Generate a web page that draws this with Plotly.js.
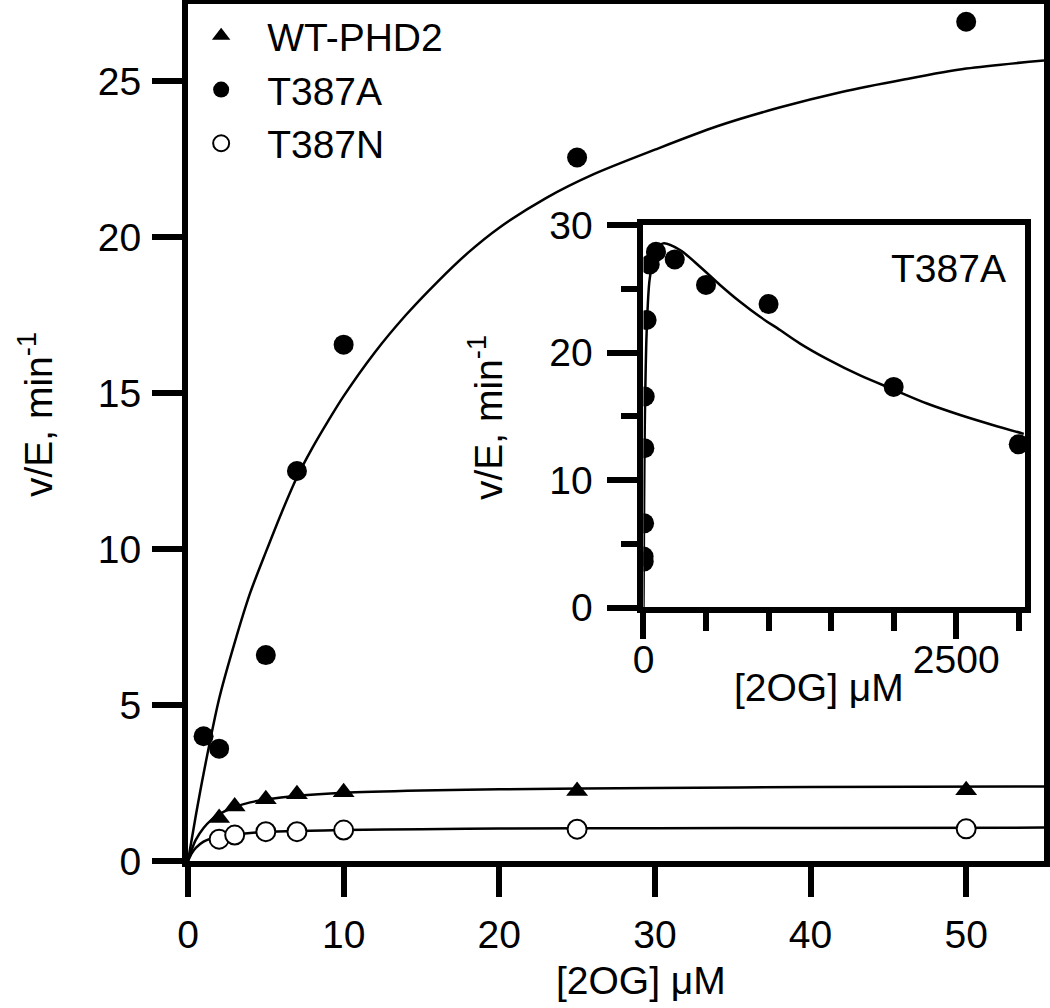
<!DOCTYPE html>
<html>
<head>
<meta charset="utf-8">
<script src="https://cdn.plot.ly/plotly-3.0.1.min.js"></script>
<style>
html,body{margin:0;padding:0;background:#fff;}
#chart{width:1050px;height:1008px;}
</style>
</head>
<body>
<div id="chart"></div>
<script>
// ---- Data ----
const seriesNames = ['WT-PHD2', 'T387A', 'T387N'];

// Main panel: measured points
const wtX = [2, 3, 5, 7, 10, 25, 50];
const wtY = [1.38, 1.75, 1.98, 2.14, 2.20, 2.24, 2.27];

const taX = [1, 2, 5, 7, 10, 25, 50];
const taY = [4.0, 3.6, 6.6, 12.5, 16.55, 22.55, 26.9];

const tnX = [2, 3, 5, 7, 10, 25, 50];
const tnY = [0.70, 0.83, 0.94, 0.94, 0.99, 1.02, 1.03];

// Main panel: fitted curves
const taFitX = [0, 0.5, 1, 2, 3, 4, 5, 6, 7, 8, 9, 10, 12, 14, 16, 18, 20, 23, 26, 30, 34, 38, 42, 46, 50, 55];
const taFitY = [0, 1.45, 2.8, 5.2, 7.0, 8.6, 9.9, 11.15, 12.3, 13.25, 14.1, 14.9, 16.3, 17.5, 18.55, 19.5, 20.3, 21.25, 22.0, 22.8, 23.55, 24.15, 24.65, 25.05, 25.4, 25.66];

const wtFitX = [0, 0.25, 0.5, 1, 1.5, 2, 3, 4, 5, 7, 10, 15, 20, 30, 40, 55];
const wtFitY = [0, 0.38, 0.68, 1.06, 1.32, 1.50, 1.73, 1.88, 1.97, 2.09, 2.19, 2.26, 2.30, 2.34, 2.37, 2.39];

const tnFitX = [0, 0.25, 0.5, 1, 1.5, 2, 3, 4, 5, 7, 10, 15, 20, 30, 40, 55];
const tnFitY = [0, 0.25, 0.42, 0.62, 0.72, 0.78, 0.85, 0.90, 0.93, 0.96, 0.99, 1.02, 1.04, 1.05, 1.06, 1.07];

// Inset (T387A over the full range)
const insetX = [1, 2, 5, 7, 10, 25, 50, 100, 250, 500, 1000, 2000, 3000];
const insetY = [4.0, 3.6, 6.6, 12.5, 16.55, 22.55, 26.9, 27.9, 27.3, 25.3, 23.8, 17.3, 12.8];

const insetFitX = [0, 5, 10, 25, 50, 100, 158, 292, 452, 612, 772, 932, 1092, 1252, 1466, 1732, 1998, 2266, 2532, 2798, 3040];
const insetFitY = [0, 8, 14, 21.5, 25.8, 28.0, 28.56, 28.04, 26.73, 25.3, 23.98, 22.8, 21.76, 20.7, 19.5, 18.2, 17.1, 16.0, 15.1, 14.3, 13.62];

// Text
const xTitle = '[2OG] \u03bcM';
const yTitle = 'v/E, min<sup>-1</sup>';
const insetLabel = 'T387A';

// ---- Traces ----
const FONT = 'Liberation Sans, Arial, Helvetica, sans-serif';
const lineStyle = {color: 'black', width: 2.5, shape: 'spline', smoothing: 0.8};

const traces = [
  {x: taFitX, y: taFitY, mode: 'lines', line: lineStyle, showlegend: false, hoverinfo: 'skip'},
  {x: wtFitX, y: wtFitY, mode: 'lines', line: lineStyle, showlegend: false, hoverinfo: 'skip'},
  {x: tnFitX, y: tnFitY, mode: 'lines', line: lineStyle, showlegend: false, hoverinfo: 'skip'},
  {x: wtX, y: wtY, mode: 'markers', name: seriesNames[0],
   marker: {symbol: 'triangle-up', size: 19, color: 'black'}},
  {x: taX, y: taY, mode: 'markers', name: seriesNames[1],
   marker: {symbol: 'circle', size: 20, color: 'black'}},
  {x: tnX, y: tnY, mode: 'markers', name: seriesNames[2],
   marker: {symbol: 'circle', size: 19, color: 'white', line: {color: 'black', width: 2}}},
  {x: insetFitX, y: insetFitY, xaxis: 'x2', yaxis: 'y2', mode: 'lines', line: lineStyle, showlegend: false, hoverinfo: 'skip'},
  {x: insetX, y: insetY, xaxis: 'x2', yaxis: 'y2', mode: 'markers', showlegend: false,
   marker: {symbol: 'circle', size: 20, color: 'black'}}
];

const axBase = {
  showline: true, linewidth: 6, linecolor: 'black', mirror: true,
  ticks: 'outside', tickwidth: 6, tickcolor: 'black',
  showgrid: false, zeroline: false, tickfont: {family: FONT, size: 39, color: 'black'},
  fixedrange: true
};

const layout = {
  width: 1050, height: 1008,
  margin: {l: 188, r: 6, t: 4, b: 147, pad: 0},
  paper_bgcolor: 'white', plot_bgcolor: 'white',
  font: {family: FONT, size: 39, color: 'black'},
  showlegend: true,
  legend: {x: -0.015, y: 1.0, xanchor: 'left', yanchor: 'top', bgcolor: 'rgba(0,0,0,0)',
           font: {family: FONT, size: 39, color: 'black'}, itemwidth: 82, borderwidth: 0},
  xaxis: Object.assign({}, axBase, {range: [0, 55], tick0: 0, dtick: 10, ticklen: 30, ticklabelstandoff: 4}),
  yaxis: Object.assign({}, axBase, {range: [0, 27.47], tick0: 0, dtick: 5, ticklen: 30, ticklabelstandoff: 3}),
  xaxis2: Object.assign({}, axBase, {domain: [0.5321, 0.9778], anchor: 'y2', range: [0, 3050], tick0: 0, dtick: 2500, ticklen: 26,
           ticklabelstandoff: -13,
           minor: {dtick: 500, tick0: 0, ticks: 'outside', ticklen: 18, tickwidth: 6, tickcolor: 'black', showgrid: false}}),
  yaxis2: Object.assign({}, axBase, {domain: [0.2958, 0.7421], anchor: 'x2', range: [0, 30], tick0: 0, dtick: 10, ticklen: 30,
           ticklabelstandoff: 7,
           minor: {dtick: 5, tick0: 0, ticks: 'outside', ticklen: 16, tickwidth: 6, tickcolor: 'black', showgrid: false}}),
  annotations: [
    {text: xTitle, xref: 'paper', yref: 'paper', x: 0.5292, y: -0.1389, xanchor: 'center', yanchor: 'middle', showarrow: false,
     font: {family: FONT, size: 39, color: 'black'}},
    {text: yTitle, xref: 'paper', yref: 'paper', x: -0.1787, y: 0.5204, xanchor: 'center', yanchor: 'middle', showarrow: false, textangle: -90,
     font: {family: FONT, size: 39, color: 'black'}},
    {text: xTitle, xref: 'paper', yref: 'paper', x: 0.7371, y: 0.2019, xanchor: 'center', yanchor: 'middle', showarrow: false,
     font: {family: FONT, size: 39, color: 'black'}},
    {text: yTitle, xref: 'paper', yref: 'paper', x: 0.347, y: 0.5169, xanchor: 'center', yanchor: 'middle', showarrow: false, textangle: -90,
     font: {family: FONT, size: 39, color: 'black'}},
    {text: insetLabel, xref: 'paper', yref: 'paper', x: 0.888, y: 0.691, xanchor: 'center', yanchor: 'middle', showarrow: false,
     font: {family: FONT, size: 39, color: 'black'}}
  ]
};

Plotly.newPlot('chart', traces, layout, {staticPlot: true, displayModeBar: false});
</script>
</body>
</html>
